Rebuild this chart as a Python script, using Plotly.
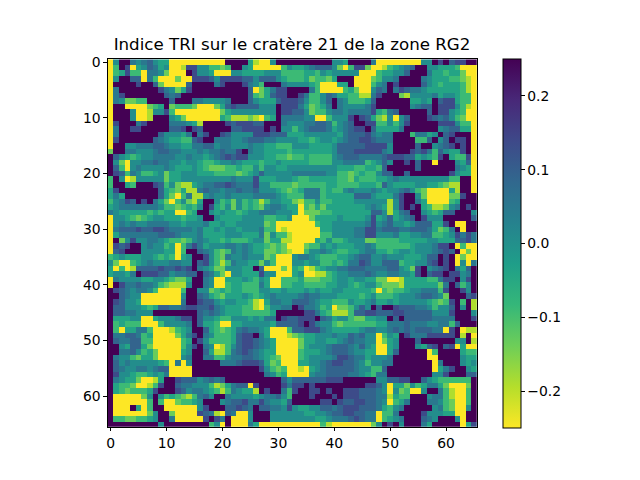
import numpy as np
import plotly.graph_objects as go

title = "Indice TRI sur le cratère 21 de la zone RG2"
z_min, z_max = -0.25, 0.25
x_ticks = [0, 10, 20, 30, 40, 50, 60]
cbar_ticks = [-0.2, -0.1, 0.0, 0.1, 0.2]
# Value for each colour class used in `levels`
level_values = [-0.25, -0.19, -0.135, -0.09, -0.04, 0.005, 0.05, 0.09, 0.135, 0.25]

# Estimated colour class per cell; 66 columns in six groups of 11
levels = [
"05996567544 00000000009 99941005999 99999995549 99960000000 05598978899",
"03980457645 00188553323 99540000035 44567775203 88200134567 99554443000",
"03483306652 00098554000 55444455533 33443545555 50003445579 99644344200",
"05997706300 02008887588 88775777543 33423324999 00023556999 96544433210",
"09999899720 00079999689 99865399965 55543000449 00035698999 97543444310",
"06999999986 52489999999 99970246889 99963000034 20057696876 65444444310",
"06899999997 67999999999 99973247889 98633576443 31168999215 55564554330",
"06522339999 79996655556 99975444788 87533579653 33479999994 45497884330",
"09900002349 23332000247 87777555988 86423469655 55689999995 67798885310",
"09995001558 30000000024 55555555988 77523356656 66684367999 99798854300",
"09995001999 54200000043 11121034966 66550035558 98742150579 99876753200",
"08999689999 66654199998 78887799965 55667763567 99883353589 99998885330",
"06998899999 77898799999 77888898955 35677764567 88974444699 99995677440",
"06999999975 55469689987 55558887774 44555555467 77865669993 66459789990",
"08999999765 44337899666 55677766555 54434554567 78876669999 33795798890",
"09955666776 55446677566 55565544333 55544445777 77888859999 79956789890",
"29966555677 66555656676 68965544443 44444445777 88888659998 78637544890",
"97543455666 65565545678 78855544332 33433335677 76666788877 45438943380",
"95205566766 55455433455 65444344544 44433335566 66345759989 79909995470",
"97305655556 54445432223 34335355445 55555555444 33443799999 79999996540",
"98736533452 44555444333 32345755555 66666655332 34335779979 99999985440",
"39501555552 44555555555 65558444555 43344444332 43334456555 55555533990",
"39943999873 52114566778 76668553333 23333344333 34443754444 55443211990",
"48999999974 32411676656 67667555432 34666343356 55565455675 32000041990",
"46499999974 20361156556 55556666543 33666344444 77754446899 52000022899",
"35687989642 03521499534 25343135544 21335334444 55555515899 64000034999",
"45666666653 32343598435 25343256654 40324244444 44565415898 94311256989",
"65444443434 40034995454 43455666555 40222334444 44477514679 95434779995",
"05543234554 44344599544 44555533445 00024444544 44584574567 98555999997",
"05656556666 55455564454 45555523000 00003445555 55685675545 77744890099",
"06777877887 66665644545 54555633010 00000445555 66886777667 77642369099",
"04666666677 76555644445 55444625331 00000335555 66885556445 56633458686",
"09258556654 33235654434 33345524411 00004353345 55223333444 44554447786",
"08789956553 40368645556 65654432320 00233545444 55653333334 55568890300",
"07899955554 40399765323 65654422321 00355654334 45664434554 55567879020",
"34544455434 30459985326 55655523000 56654333445 67755655544 45779890200",
"52003456555 66559785313 65544253000 55455334346 68755777344 55789890506",
"40301777787 78789654225 55449700020 43013455667 77666677542 89567896479",
"45546988877 56677976420 55444855000 45001134556 66765566554 89788988569",
"06555544554 32249965004 44543540033 34222334554 55442200144 44336889589",
"09866766532 11159965003 44333640033 44333344554 34553222144 44442697359",
"98765665300 00399552343 44333554454 44545445544 44430323345 56663899859",
"99765500000 00599764324 44543456555 56766555444 43453334555 67765299978",
"98755400000 00699877545 54431046655 77765443335 44564454555 55432389391",
"97755543477 66788778654 44331035566 98665340223 57597998777 66535579591",
"97766555999 99999767654 44333334999 99886431113 77887778877 77755589995",
"94445500455 56889755433 55545466987 78889764553 22445597977 77766669998",
"93433300035 55569744300 44555554777 78986553233 33334466676 66556637999",
"93044663000 13459974323 46766540003 77888654444 45665567676 77766089011",
"96677634000 02468965333 47889640001 23445556557 67550354986 66888889190",
"97667733000 00349853333 47887654000 02445544567 66550245999 79999995591",
"99547742000 00358965013 57887654000 02455567776 57540045999 54789780400",
"99667534200 00459974113 67876544000 03444567776 55440047999 99039999433",
"96553244200 00569966335 66776543200 03455556887 66455569999 99009999544",
"97565555543 06059999966 67888742300 04455678877 65355669999 99906999545",
"97655665677 00009999999 99999853230 01045677777 65533799999 99904689954",
"98554334546 00009999999 99999965340 00056677776 65436699999 99955899977",
"96544200149 98777567679 99999999975 77777788899 99995577889 97543333339",
"94332001389 97665553124 67708999986 88989999999 99887504425 34664200029",
"94323334899 98756654313 65441989963 89988989988 87776505230 05996310039",
"90000025953 43213675996 55554566753 99989998988 87776614339 99566310039",
"90000003930 02334599956 77866865547 99999889877 88776503469 99665320039",
"90009403990 00000589997 78769776658 54455776788 87776435699 99956320059",
"90000002599 20000876107 60059995555 55445567788 77660336999 98555440099",
"93322334599 60000089869 00059995555 55554456667 87660345699 97659995099",
"99999999959 99999993509 00064000000 00000310000 00025989599 96499999048",
]

# The page puts the figure 8 px in from the window's top-left corner.
page_offset = 8


def px_x(px):
    return (px - page_offset) / 640


def px_y(px):
    return 1 - (px - page_offset) / 480


def to_values(row):
    digits = row.replace(" ", "")[:66].ljust(66, row[-1])
    return [level_values[int(d)] for d in digits]


z = np.array([to_values(r) for r in levels])

fig = go.Figure(go.Heatmap(
    z=z,
    zmin=z_min,
    zmax=z_max,
    colorscale="Viridis_r",
    colorbar=dict(
        x=px_x(502.5), xanchor="left", xref="paper",
        y=px_y(241), yanchor="middle",
        len=373 / 480, lenmode="fraction",
        thickness=18, thicknessmode="pixels",
        outlinecolor="black", outlinewidth=1,
        ticks="outside", ticklen=3.5, tickwidth=0.8, tickcolor="black",
        tickvals=cbar_ticks, tickformat=".1f",
        tickfont=dict(family="DejaVu Sans", size=13.9, color="black"),
        xpad=0, ypad=0,
    ),
))

axis = dict(
    showgrid=False, zeroline=False, mirror=True, showline=True,
    linecolor="black", linewidth=0.8,
    ticks="outside", ticklen=3.5, tickwidth=0.8, tickcolor="black",
    tickvals=x_ticks,
    tickfont=dict(family="DejaVu Sans", size=13.9, color="black"),
)

fig.update_layout(
    width=640, height=480, autosize=False,
    margin=dict(l=0, r=0, t=0, b=0),
    paper_bgcolor="white", plot_bgcolor="white",
    showlegend=False,
    title=dict(
        text=title, x=px_x(292), xanchor="center",
        y=px_y(44), yanchor="middle",
        font=dict(family="DejaVu Sans", size=16.67, color="black"),
    ),
    xaxis=dict(axis, range=[-0.5, 65.5], domain=[px_x(106.2), px_x(476.3)]),
    yaxis=dict(axis, range=[65.5, -0.5], domain=[px_y(426.2), px_y(54.8)]),
)

fig.write_html("out.html")
